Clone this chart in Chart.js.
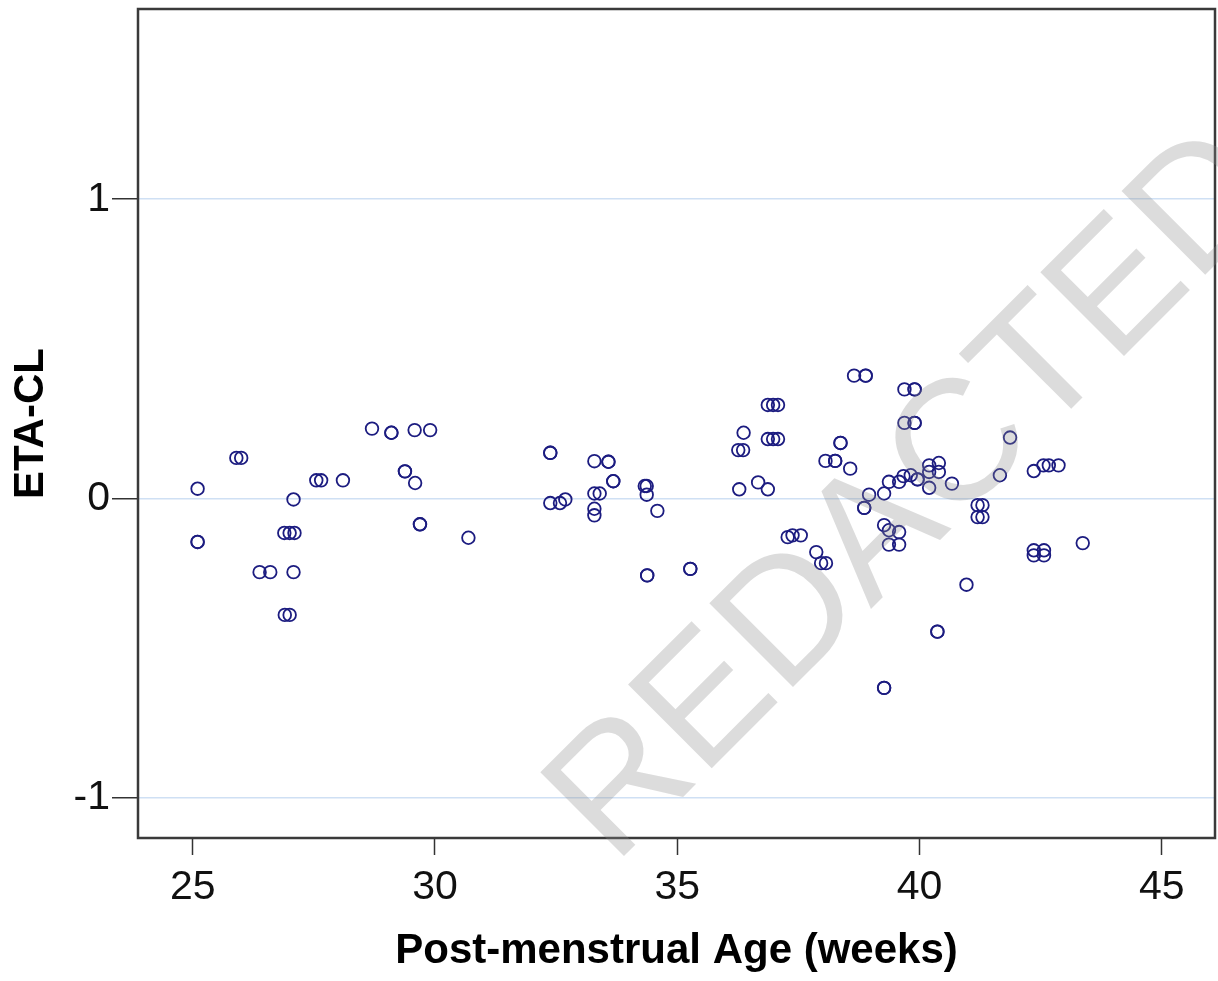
<!DOCTYPE html>
<html>
<head>
<meta charset="utf-8">
<script src="https://cdn.jsdelivr.net/npm/chart.js@4.4.1/dist/chart.umd.min.js"></script>
<style>
  html, body { margin: 0; padding: 0; background: #fff; }
  #wrap { width: 1218px; height: 981px; }
</style>
</head>
<body>
<div id="wrap"><canvas id="c" width="1218" height="981"></canvas></div>
<script>
// ETA-CL against post-menstrual age
const pmaWeeks = [
  25.1, 25.1, 25.1, 25.9, 26.0, 26.38, 26.6, 27.08, 26.9, 27.0,
  26.89, 27.0, 27.1, 27.08, 27.55, 27.65, 28.1, 28.7, 29.1, 29.1,
  29.58, 29.9, 29.38, 29.38, 29.59, 29.69, 29.69, 30.69,
  32.38, 32.38, 32.38, 32.58, 32.69, 33.29, 33.58, 33.58, 33.68, 33.68,
  33.29, 33.4, 33.29, 33.29, 34.33, 34.37, 34.37, 34.59, 34.38, 34.38,
  35.27, 35.27, 36.37, 36.26, 36.36, 36.28, 36.67, 36.87,
  36.87, 36.98, 37.08, 36.87, 36.98, 37.08, 37.28, 37.38, 37.55,
  37.87, 37.97, 38.07,
  38.65, 38.89, 38.89, 39.69, 39.9, 39.9, 39.69, 39.9, 39.9,
  38.37, 38.37, 38.06, 38.26, 38.26, 38.57, 41.87, 41.66,
  42.36, 42.56, 42.67, 42.87, 40.67, 43.37,
  42.36, 42.57, 42.36, 42.57, 41.3, 41.3, 41.2, 41.2,
  40.97, 40.37, 40.37, 39.27, 39.27, 38.86, 38.86, 38.96, 39.27,
  39.37, 39.58, 39.67, 39.82, 39.96, 39.96, 40.2, 40.4, 40.2, 40.4, 40.2,
  39.27, 39.37, 39.58, 39.37, 39.58
];
const etaCL = [
  0.032, -0.146, -0.146, 0.135, 0.135, -0.247, -0.247, -0.247, -0.39, -0.39,
  -0.116, -0.116, -0.116, -0.004, 0.06, 0.06, 0.06, 0.233, 0.219, 0.219,
  0.228, 0.228, 0.09, 0.09, 0.051, -0.087, -0.087, -0.132,
  0.152, 0.152, -0.016, -0.016, -0.004, 0.124, 0.122, 0.122, 0.057, 0.057,
  0.016, 0.016, -0.035, -0.057, 0.041, 0.041, 0.012, -0.042, -0.258, -0.258,
  -0.236, -0.236, 0.219, 0.161, 0.161, 0.03, 0.053, 0.03,
  0.312, 0.312, 0.312, 0.198, 0.198, 0.198, -0.13, -0.124, -0.124,
  -0.18, -0.217, -0.217,
  0.41, 0.41, 0.41, 0.364, 0.364, 0.364, 0.252, 0.252, 0.252,
  0.185, 0.185, 0.125, 0.125, 0.125, 0.099, 0.203, 0.077,
  0.091, 0.11, 0.11, 0.11, 0.049, -0.15,
  -0.174, -0.174, -0.191, -0.191, -0.023, -0.063, -0.023, -0.063,
  -0.289, -0.446, -0.446, -0.634, -0.634, -0.032, -0.032, 0.012, 0.016,
  0.055, 0.055, 0.074, 0.077, 0.063, 0.063, 0.11, 0.118, 0.088, 0.088, 0.035,
  -0.09, -0.107, -0.113, -0.155, -0.155
];
const xTicks = [25, 30, 35, 40, 45];
const yTicks = [-1, 0, 1];

const FONT = 'Arial, "Liberation Sans", sans-serif';
const points = pmaWeeks.map((x, i) => ({ x: x, y: etaCL[i] }));

// box round the plot area + the grey watermark on top
const framePlugin = {
  id: 'frame',
  afterDatasetsDraw(chart) {
    const { ctx, chartArea: a } = chart;
    ctx.save();
    ctx.strokeStyle = '#3a3a3a';
    ctx.lineWidth = 2.5;
    ctx.strokeRect(a.left, a.top, a.right - a.left, a.bottom - a.top);
    ctx.restore();
  },
  afterDraw(chart) {
    const ctx = chart.ctx;
    ctx.save();
    ctx.translate(614, 866);
    ctx.rotate(-Math.PI / 4);
    ctx.font = '172px ' + FONT;
    ctx.fillStyle = 'rgba(140,140,140,0.3)';
    ctx.textBaseline = 'alphabetic';
    ctx.fillText('REDACTED', 0, 0);
    ctx.restore();
  }
};

// kill the half-label margins chart.js adds at the ends of each axis
function noEdgePad(s) {
  s.paddingTop = 0; s.paddingBottom = 0;
  s.paddingLeft = 0; s.paddingRight = 0;
}

new Chart(document.getElementById('c'), {
  type: 'scatter',
  data: {
    datasets: [{
      data: points,
      pointStyle: 'circle',
      pointRadius: 6.3,
      pointBorderWidth: 1.8,
      pointBorderColor: '#1c1c80',
      pointBackgroundColor: 'rgba(0,0,0,0)'
    }]
  },
  options: {
    responsive: false,
    animation: false,
    layout: { autoPadding: false, padding: { top: 9, right: 3, left: 0, bottom: 0 } },
    plugins: { legend: { display: false }, tooltip: { enabled: false } },
    scales: {
      x: {
        type: 'linear', position: 'bottom',
        min: 23.87, max: 46.1,
        afterBuildTicks: s => { s.ticks = xTicks.map(v => ({ value: v })); },
        afterFit: s => { s.height = 143; noEdgePad(s); },
        border: { display: false },
        grid: { drawOnChartArea: false, tickLength: 17, tickColor: '#333', tickWidth: 1.5 },
        ticks: { color: '#111', font: { family: FONT, size: 41 }, padding: 8, maxRotation: 0 },
        title: {
          display: true, text: 'Post-menstrual Age (weeks)', color: '#000',
          font: { family: FONT, size: 42, weight: 'bold', lineHeight: 1 },
          padding: { top: 0, bottom: 9 }
        }
      },
      y: {
        type: 'linear', position: 'left',
        min: -1.136, max: 1.636,
        afterBuildTicks: s => { s.ticks = yTicks.map(v => ({ value: v })); },
        afterFit: s => { s.width = 138; noEdgePad(s); },
        border: { display: false },
        grid: { color: '#cfe0f4', lineWidth: 1.5, tickLength: 26, tickColor: '#333', tickWidth: 1.5 },
        ticks: { color: '#111', font: { family: FONT, size: 41 }, padding: 2 },
        title: {
          display: true, text: 'ETA-CL', color: '#000',
          font: { family: FONT, size: 42, weight: 'bold', lineHeight: 1 },
          padding: { top: 10, bottom: 0 }
        }
      }
    }
  },
  plugins: [framePlugin]
});
</script>
</body>
</html>
